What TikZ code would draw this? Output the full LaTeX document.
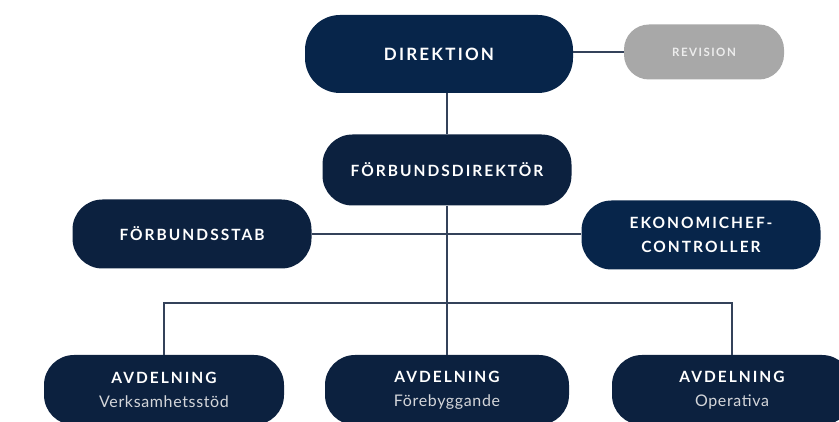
\documentclass[tikz,border=0pt]{standalone}
\usepackage{fontspec}
\setmainfont{Lato}
\newfontfamily\capsfont{Lato}[LetterSpace=13]
\newfontfamily\subfont{Lato}[LetterSpace=4]
\definecolor{navy}{HTML}{07254A}
\definecolor{darknavy}{HTML}{0C213F}
\definecolor{revgray}{HTML}{A8A8A8}
\definecolor{revtext}{HTML}{EDEDED}
\definecolor{subgray}{HTML}{D4D6DA}
\definecolor{linegray}{HTML}{34425A}
\tikzset{
  orgbox/.style={fill=darknavy, text=white, rounded corners=30pt, inner sep=0pt,
    minimum width=239pt, minimum height=69pt, align=center,
    font=\capsfont\bfseries\fontsize{15.5}{24}\selectfont},
  topbox/.style={orgbox, fill=navy, minimum width=268pt, minimum height=78pt, rounded corners=35pt,
    font=\capsfont\bfseries\fontsize{17}{24}\selectfont},
  revbox/.style={orgbox, fill=revgray, text=revtext, minimum width=160pt, minimum height=55pt,
    rounded corners=25pt, font=\capsfont\bfseries\fontsize{11.5}{14}\selectfont},
  orgline/.style={draw=linegray, line width=1.3pt}
}
\begin{document}
\begin{tikzpicture}[x=1pt, y=1pt]
            \useasboundingbox (0,0) rectangle (839,422);
            \clip (0,0) rectangle (839,422);
            % top level
            \node (dir) at (439,368) [topbox] {DIREKTION};
            \node (rev) at (704,370) [revbox] {REVISION};
            \node (fdir) at (447,252) [orgbox, minimum width=249pt, minimum height=71pt] {FÖRBUNDSDIREKTÖR};
            % staff level
            \node (stab) at (192,188) [orgbox] {FÖRBUNDSSTAB};
            \node (ekon) at (701,187) [orgbox, fill=navy] {EKONOMICHEF-\\CONTROLLER};
            % departments
            \coordinate (bus) at (447,119);
            \node (verk) at (164,32) [orgbox, minimum width=240pt, minimum height=70pt] {AVDELNING\\{\subfont\mdseries\fontsize{16}{23}\selectfont\color{subgray}Verksamhetsstöd}};
            \node (fore) at (447,32) [orgbox, minimum width=244pt, minimum height=70pt] {AVDELNING\\{\subfont\mdseries\fontsize{16}{23}\selectfont\color{subgray}Förebyggande}};
            \node (oper) at (732,32) [orgbox, minimum width=240pt, minimum height=70pt] {AVDELNING\\{\subfont\mdseries\fontsize{16}{23}\selectfont\color{subgray}Operativa}};
            % connectors
            \draw[orgline] (dir.east |- rev.west) -- (rev.west);
            \draw[orgline] (fdir.north) -- (fdir.north |- dir.south);
            \draw[orgline] (fdir.south) -- (fore.north);
            \draw[orgline] (stab.east) -- (ekon.west |- stab.east);
            \draw[orgline] (verk.north) -- (verk.north |- bus) -- (oper.north |- bus) -- (oper.north);
\end{tikzpicture}
\end{document}
